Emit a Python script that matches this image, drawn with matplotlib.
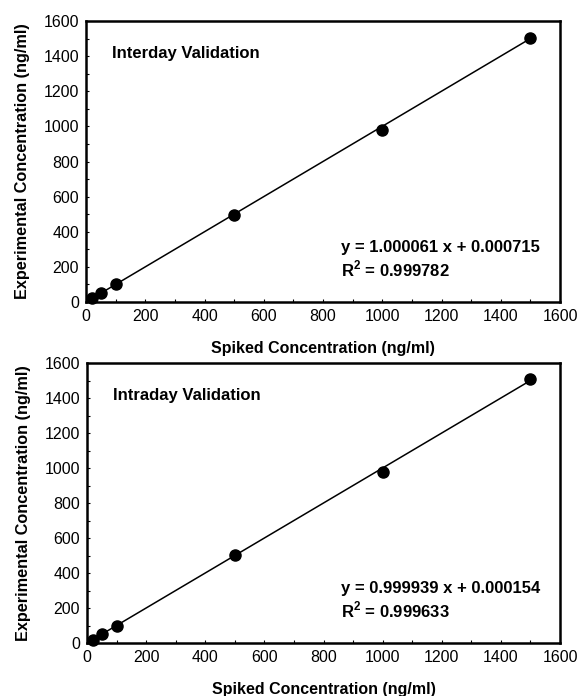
import matplotlib
matplotlib.use("Agg")
import matplotlib.pyplot as plt
from matplotlib.ticker import MultipleLocator
import numpy as np

plt.rcParams['font.family'] = ['Liberation Sans', 'DejaVu Sans']
plt.rcParams['mathtext.fontset'] = 'custom'
plt.rcParams['mathtext.rm'] = 'Liberation Sans'
plt.rcParams['mathtext.bf'] = 'Liberation Sans:bold'

spiked = [20, 50, 100, 500, 1000, 1500]
inter_exp = [20, 50, 100, 496, 980, 1505]
intra_exp = [20, 50, 100, 503, 979, 1511]

inter_title = "Interday Validation"
intra_title = "Intraday Validation"
inter_slope, inter_icpt, inter_r2 = 1.000061, 0.000715, "0.999782"
intra_slope, intra_icpt, intra_r2 = 0.999939, 0.000154, "0.999633"

xticks = [0, 200, 400, 600, 800, 1000, 1200, 1400, 1600]
yticks = [0, 200, 400, 600, 800, 1000, 1200, 1400, 1600]

fig = plt.figure(figsize=(5.79, 6.96), dpi=100)
ax1 = fig.add_axes([86/579, 1-302/696, (560-86)/579, (302-21)/696])
ax2 = fig.add_axes([87/579, 1-643/696, (560-87)/579, (643-363)/696])

panels = [
    (ax1, inter_exp, inter_title, inter_slope, inter_icpt, inter_r2),
    (ax2, intra_exp, intra_title, intra_slope, intra_icpt, intra_r2),
]

for ax, yexp, title, slope, icpt, r2 in panels:
    xs = np.array([spiked[0], spiked[-1]], dtype=float)
    ax.plot(xs, slope * xs + icpt, color='black', lw=1.1, zorder=2)
    ax.plot(spiked, yexp, 'o', color='black', ms=8, zorder=3, clip_on=False)
    ax.set_xlim(0, 1600)
    ax.set_ylim(0, 1600)
    ax.set_xticks(xticks)
    ax.set_yticks(yticks)
    ax.xaxis.set_minor_locator(MultipleLocator(100))
    ax.yaxis.set_minor_locator(MultipleLocator(100))
    ax.tick_params(which='both', direction='in', length=2.5, width=0.8, labelsize=11.5, pad=5)
    for s in ax.spines.values():
        s.set_linewidth(1.8)
    ax.set_xlabel("Spiked Concentration (ng/ml)", fontsize=11.5, fontweight='bold', labelpad=12)
    ax.set_ylabel("Experimental Concentration (ng/ml)", fontsize=11.7, fontweight='bold', labelpad=10)
    ax.text(0.055, 0.883, title, transform=ax.transAxes, fontsize=12, fontweight='bold', va='center')
    ax.text(0.538, 0.194, f"y = {slope:.6f} x + {icpt:.6f}",
            transform=ax.transAxes, fontsize=12, fontweight='bold', va='center')
    ax.text(0.538, 0.118, r"R$^\mathbf{2}$" + f" = {r2}",
            transform=ax.transAxes, fontsize=12, fontweight='bold', va='center')

fig.savefig("out.png", dpi=100)
